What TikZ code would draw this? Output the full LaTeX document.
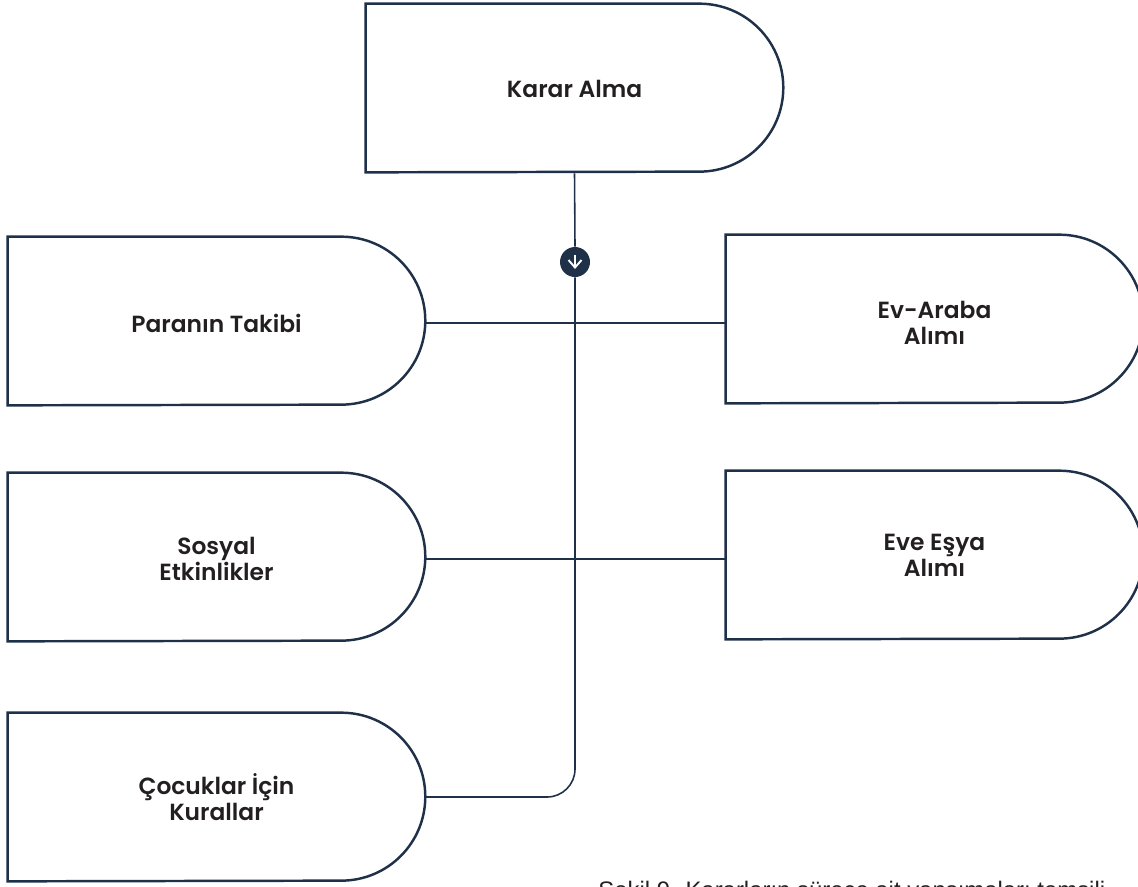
\documentclass[tikz,border=0pt]{standalone}
\usepackage{fontspec}
\setmainfont{Poppins}[UprightFont={* SemiBold}]
\newfontfamily\captionfont{Liberation Sans}
\usetikzlibrary{calc,arrows.meta}
\definecolor{navy}{HTML}{1F3049}
\definecolor{ink}{HTML}{231F20}
\tikzset{
  kararbox/.style={minimum width=8.34cm,minimum height=3.36cm,inner sep=0pt,align=center,text=ink,
    font=\fontsize{13.3}{15}\selectfont,
    append after command={\pgfextra{
      \draw[navy,line width=1.4pt,line join=miter]
        ($(\tikzlastnode.north west)+(0,-#1)$)--($(\tikzlastnode.north east)+(-84,-#1)$)
        arc[start angle=90,end angle=-90,radius=1.68cm]
        --($(\tikzlastnode.south west)+(0,-#1)$)--cycle;}}},
  kararbox/.default=0,
  joinline/.style={navy,line width=0.9pt}
}
\begin{document}
\begin{tikzpicture}[x=0.02cm,y=-0.02cm]
    \useasboundingbox(0,0)rectangle(1138,886);
    \node[kararbox=1](karar)at(574.5,89){Karar Alma};
    \node[kararbox=2](para)at(216.5,323){Paranın Takibi};
    \node[kararbox=2](sosyal)at(216.5,559){Sosyal\\Etkinlikler};
    \node[kararbox](cocuk)at(216.5,797){Çocuklar İçin\\Kurallar};
    \node[kararbox=4](araba)at(934.5,323){Ev-Araba\\Alımı};
    \node[kararbox](esya)at(934.5,555){Eve Eşya\\Alımı};
    \node[circle,fill=navy,minimum size=0.6cm,inner sep=0pt](badge)at(575,262){};
    \draw[joinline](karar.south)--(badge.north);
    \draw[joinline,rounded corners=0.56cm](badge.south)|-(cocuk.east);
    \draw[joinline](para.east)--(araba.west);
    \draw[joinline](sosyal.east)--(sosyal.east-|esya.west);
    \draw[white,line width=1.1pt,-{Straight Barb[length=1.5mm,width=2.6mm]}]($(badge)+(0,-7)$)--($(badge)+(0,7)$);
    \node[anchor=base west,inner sep=0pt,font=\captionfont\fontsize{13.6}{16}\selectfont,text=ink](caption)at(598,898){Şekil 9. Kararların sürece ait yansımaları temsili};
\end{tikzpicture}
\end{document}
